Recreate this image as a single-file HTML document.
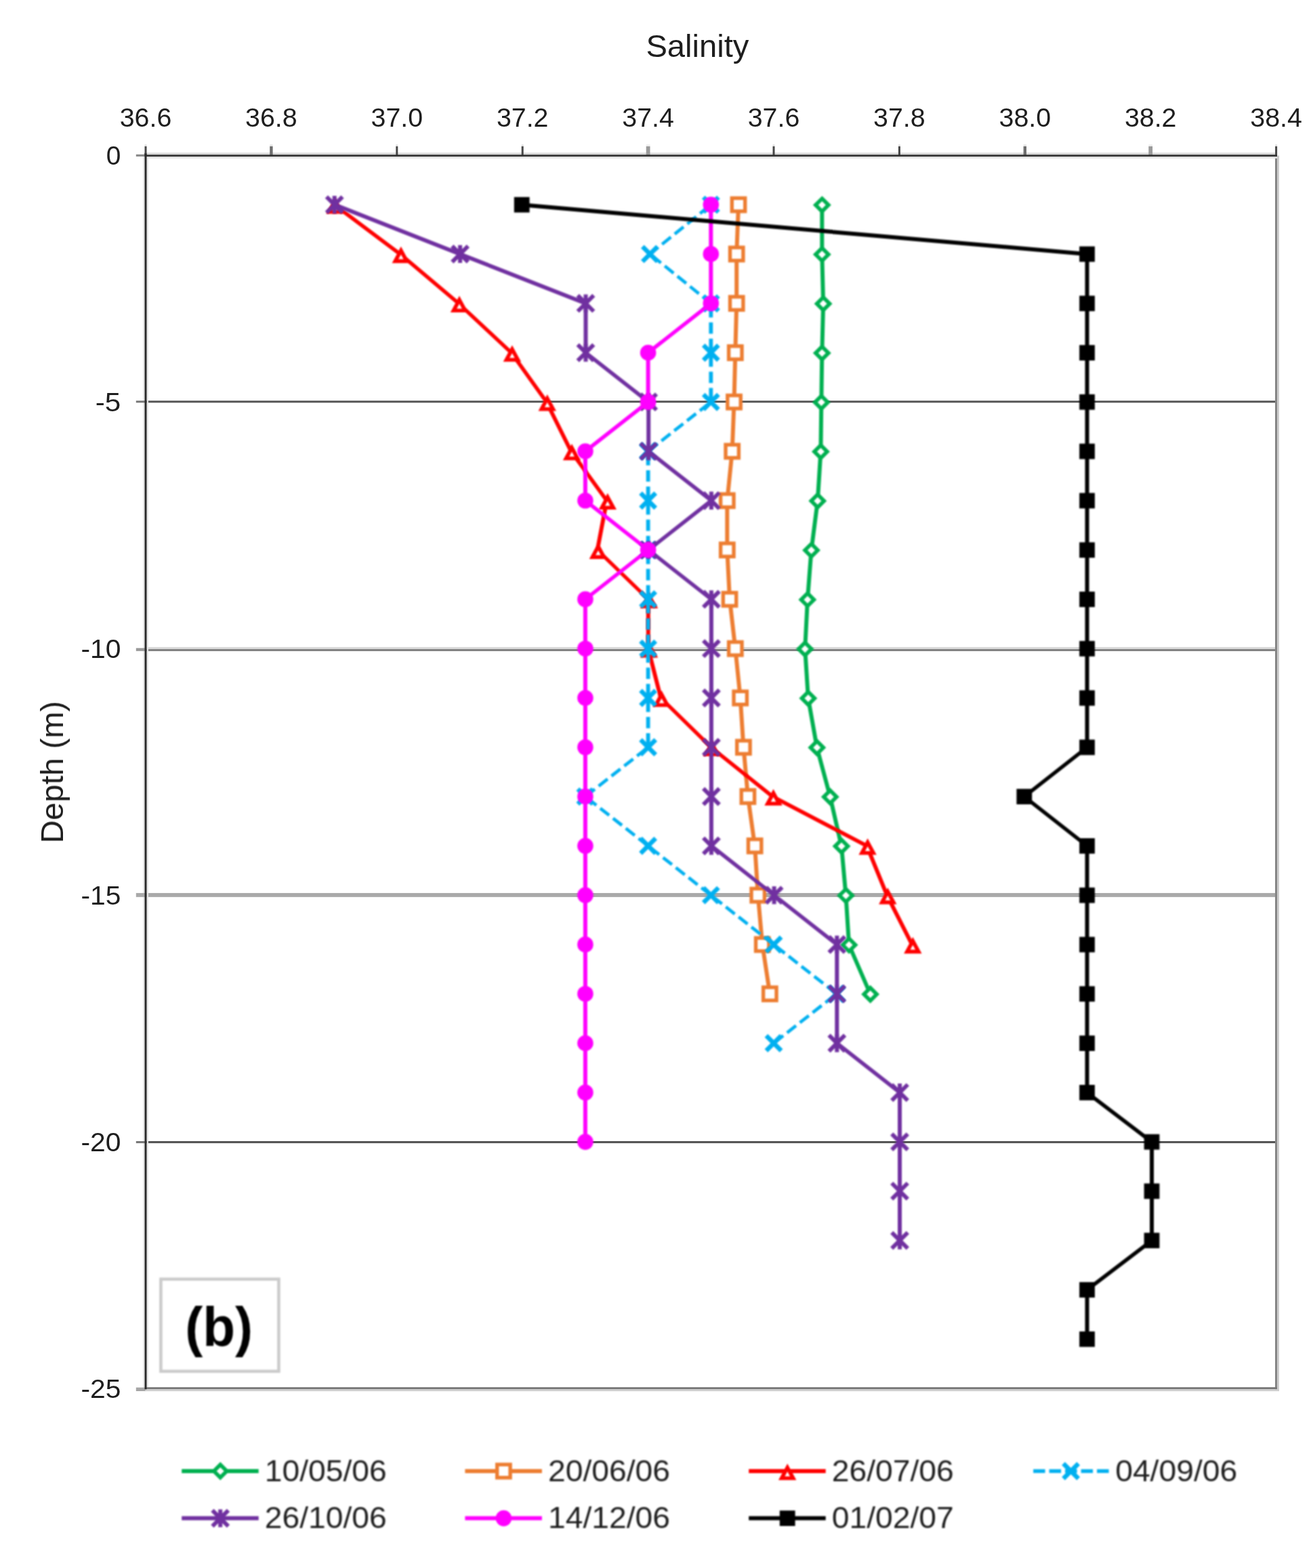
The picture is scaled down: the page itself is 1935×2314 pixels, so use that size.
<!DOCTYPE html>
<html lang="en">
<head>
<meta charset="utf-8">
<title>Salinity vs Depth (b)</title>
<style>
html,body{margin:0;padding:0;background:#fff;}
body{width:1935px;height:2314px;overflow:hidden;font-family:"Liberation Sans", "DejaVu Sans", sans-serif;}
svg{display:block;}
</style>
</head>
<body>
<svg width="1935" height="2314" viewBox="0 0 1935 2314" font-family='"Liberation Sans", "DejaVu Sans", sans-serif'>
<rect width="1935" height="2314" fill="#fff"/>
<defs><filter id="soft" x="-5%" y="-5%" width="110%" height="110%" color-interpolation-filters="sRGB"><feGaussianBlur stdDeviation="0.9"/></filter><filter id="softer" x="-5%" y="-5%" width="110%" height="110%" color-interpolation-filters="sRGB"><feGaussianBlur stdDeviation="0.7"/></filter></defs>
<g id="grid">
<rect x="213.5" y="591.3" width="1671.5" height="3.0" fill="#555555"/>
<rect x="213.5" y="954.9" width="1671.5" height="3.0" fill="#d9d9d9"/>
<rect x="213.5" y="957.9" width="1671.5" height="3.0" fill="#808080"/>
<rect x="213.5" y="1317.9" width="1671.5" height="5.9" fill="#a9a9a9"/>
<rect x="213.5" y="1684.0" width="1671.5" height="3.1" fill="#555555"/>
</g>
<g id="frame">
<rect x="1882.0" y="229.5" width="3.0" height="1821.0" fill="#858585"/>
<rect x="1885.0" y="229.5" width="3.0" height="1823.5" fill="#cdcdcd"/>
<rect x="213.5" y="2047.2" width="1671.5" height="3.1" fill="#777777"/>
<rect x="213.5" y="2050.3" width="1674.5" height="2.8" fill="#cfcfcf"/>
<rect x="212.0" y="225.4" width="1673.0" height="2.9" fill="#dadada"/>
<rect x="212.0" y="231.1" width="1673.0" height="2.7" fill="#e6e6e6"/>
<rect x="211.3" y="228.3" width="2.2" height="1822.0" fill="#e4e4e4"/>
<rect x="216.5" y="231.0" width="2.4" height="1816.0" fill="#e8e8e8"/>
<rect x="200.8" y="227.8" width="13.5" height="3.2" fill="#8c8c8c"/>
<rect x="200.8" y="591.3" width="13.5" height="3.0" fill="#777"/>
<rect x="200.8" y="956.4" width="13.5" height="4.4" fill="#999"/>
<rect x="200.8" y="1317.9" width="13.5" height="5.9" fill="#a9a9a9"/>
<rect x="200.8" y="1684.0" width="13.5" height="3.1" fill="#777"/>
<rect x="200.8" y="2047.6" width="13.5" height="5.4" fill="#a6a6a6"/>
<rect x="213.5" y="216.0" width="3.0" height="13.0" fill="#484848"/>
<rect x="213.5" y="213.4" width="3.0" height="2.6" fill="#dcdcdc"/>
<rect x="398.2" y="216.0" width="4.4" height="13.0" fill="#6e6e6e"/>
<rect x="398.2" y="213.4" width="4.4" height="2.6" fill="#e2e2e2"/>
<rect x="584.3" y="216.0" width="3.0" height="13.0" fill="#484848"/>
<rect x="584.3" y="213.4" width="3.0" height="2.6" fill="#dcdcdc"/>
<rect x="769.7" y="216.0" width="3.0" height="13.0" fill="#484848"/>
<rect x="769.7" y="213.4" width="3.0" height="2.6" fill="#dcdcdc"/>
<rect x="953.7" y="216.0" width="5.8" height="13.0" fill="#9a9a9a"/>
<rect x="953.7" y="213.4" width="5.8" height="2.6" fill="#ececec"/>
<rect x="1140.5" y="216.0" width="3.0" height="13.0" fill="#484848"/>
<rect x="1140.5" y="213.4" width="3.0" height="2.6" fill="#dcdcdc"/>
<rect x="1325.9" y="216.0" width="3.0" height="13.0" fill="#484848"/>
<rect x="1325.9" y="213.4" width="3.0" height="2.6" fill="#dcdcdc"/>
<rect x="1510.6" y="216.0" width="4.4" height="13.0" fill="#6e6e6e"/>
<rect x="1510.6" y="213.4" width="4.4" height="2.6" fill="#e2e2e2"/>
<rect x="1695.3" y="216.0" width="5.8" height="13.0" fill="#9a9a9a"/>
<rect x="1695.3" y="213.4" width="5.8" height="2.6" fill="#ececec"/>
<rect x="1882.1" y="216.0" width="3.0" height="13.0" fill="#484848"/>
<rect x="1882.1" y="213.4" width="3.0" height="2.6" fill="#dcdcdc"/>
<rect x="213.5" y="228.3" width="1671.5" height="2.8" fill="#333333"/>
<rect x="213.5" y="226.5" width="3.0" height="1823.8" fill="#2a2a2a"/>
</g>
<g id="labels" fill="#1e1e1e" filter="url(#softer)">
<text x="1029.4" y="84" font-size="46" text-anchor="middle" textLength="152" lengthAdjust="spacingAndGlyphs">Salinity</text>
<text x="215.0" y="187" font-size="38" text-anchor="middle" textLength="76.6" lengthAdjust="spacingAndGlyphs">36.6</text>
<text x="400.4" y="187" font-size="38" text-anchor="middle" textLength="76.6" lengthAdjust="spacingAndGlyphs">36.8</text>
<text x="585.8" y="187" font-size="38" text-anchor="middle" textLength="76.6" lengthAdjust="spacingAndGlyphs">37.0</text>
<text x="771.2" y="187" font-size="38" text-anchor="middle" textLength="76.6" lengthAdjust="spacingAndGlyphs">37.2</text>
<text x="956.6" y="187" font-size="38" text-anchor="middle" textLength="76.6" lengthAdjust="spacingAndGlyphs">37.4</text>
<text x="1142.0" y="187" font-size="38" text-anchor="middle" textLength="76.6" lengthAdjust="spacingAndGlyphs">37.6</text>
<text x="1327.4" y="187" font-size="38" text-anchor="middle" textLength="76.6" lengthAdjust="spacingAndGlyphs">37.8</text>
<text x="1512.8" y="187" font-size="38" text-anchor="middle" textLength="76.6" lengthAdjust="spacingAndGlyphs">38.0</text>
<text x="1698.2" y="187" font-size="38" text-anchor="middle" textLength="76.6" lengthAdjust="spacingAndGlyphs">38.2</text>
<text x="1883.6" y="187" font-size="38" text-anchor="middle" textLength="76.6" lengthAdjust="spacingAndGlyphs">38.4</text>
<text x="178.4" y="243.2" font-size="38" text-anchor="end" textLength="21.6" lengthAdjust="spacingAndGlyphs">0</text>
<text x="178.4" y="607.1" font-size="38" text-anchor="end" textLength="37.6" lengthAdjust="spacingAndGlyphs">-5</text>
<text x="178.4" y="971.1" font-size="38" text-anchor="end" textLength="59.0" lengthAdjust="spacingAndGlyphs">-10</text>
<text x="178.4" y="1335.0" font-size="38" text-anchor="end" textLength="59.0" lengthAdjust="spacingAndGlyphs">-15</text>
<text x="178.4" y="1699.0" font-size="38" text-anchor="end" textLength="59.0" lengthAdjust="spacingAndGlyphs">-20</text>
<text x="178.4" y="2062.9" font-size="38" text-anchor="end" textLength="59.0" lengthAdjust="spacingAndGlyphs">-25</text>
<text transform="translate(93 1139.5) rotate(-90)" font-size="46.5" text-anchor="middle" textLength="210" lengthAdjust="spacingAndGlyphs">Depth (m)</text>
</g>
<g id="s-green" filter="url(#soft)">
<g fill="none" stroke="#00B050" stroke-linecap="round">
<line x1="1213.3" y1="302.6" x2="1213.3" y2="375.4" stroke-width="6.00"/>
<line x1="1213.3" y1="375.4" x2="1215.1" y2="448.2" stroke-width="6.00"/>
<line x1="1215.1" y1="448.2" x2="1213.3" y2="521.0" stroke-width="6.00"/>
<line x1="1213.3" y1="521.0" x2="1212.3" y2="593.7" stroke-width="6.00"/>
<line x1="1212.3" y1="593.7" x2="1211.4" y2="666.5" stroke-width="6.00"/>
<line x1="1211.4" y1="666.5" x2="1206.8" y2="739.3" stroke-width="6.00"/>
<line x1="1206.8" y1="739.3" x2="1197.5" y2="812.1" stroke-width="5.99"/>
<line x1="1197.5" y1="812.1" x2="1191.9" y2="884.9" stroke-width="5.99"/>
<line x1="1191.9" y1="884.9" x2="1188.2" y2="957.7" stroke-width="6.00"/>
<line x1="1188.2" y1="957.7" x2="1192.9" y2="1030.5" stroke-width="6.00"/>
<line x1="1192.9" y1="1030.5" x2="1205.8" y2="1103.3" stroke-width="5.97"/>
<line x1="1205.8" y1="1103.3" x2="1225.3" y2="1176.0" stroke-width="5.94"/>
<line x1="1225.3" y1="1176.0" x2="1242.0" y2="1248.8" stroke-width="5.95"/>
<line x1="1242.0" y1="1248.8" x2="1248.5" y2="1321.6" stroke-width="5.99"/>
<line x1="1248.5" y1="1321.6" x2="1253.1" y2="1394.4" stroke-width="6.00"/>
<line x1="1253.1" y1="1394.4" x2="1284.6" y2="1467.2" stroke-width="5.85"/>
</g>
<path d="M1213.3 293.1L1222.8 302.6L1213.3 312.1L1203.8 302.6Z" fill="#fff" stroke="#00B050" stroke-width="5.6" stroke-linejoin="miter"/>
<path d="M1213.3 365.9L1222.8 375.4L1213.3 384.9L1203.8 375.4Z" fill="#fff" stroke="#00B050" stroke-width="5.6" stroke-linejoin="miter"/>
<path d="M1215.1 438.7L1224.6 448.2L1215.1 457.7L1205.6 448.2Z" fill="#fff" stroke="#00B050" stroke-width="5.6" stroke-linejoin="miter"/>
<path d="M1213.3 511.5L1222.8 521.0L1213.3 530.5L1203.8 521.0Z" fill="#fff" stroke="#00B050" stroke-width="5.6" stroke-linejoin="miter"/>
<path d="M1212.3 584.2L1221.8 593.7L1212.3 603.2L1202.8 593.7Z" fill="#fff" stroke="#00B050" stroke-width="5.6" stroke-linejoin="miter"/>
<path d="M1211.4 657.0L1220.9 666.5L1211.4 676.0L1201.9 666.5Z" fill="#fff" stroke="#00B050" stroke-width="5.6" stroke-linejoin="miter"/>
<path d="M1206.8 729.8L1216.3 739.3L1206.8 748.8L1197.3 739.3Z" fill="#fff" stroke="#00B050" stroke-width="5.6" stroke-linejoin="miter"/>
<path d="M1197.5 802.6L1207.0 812.1L1197.5 821.6L1188.0 812.1Z" fill="#fff" stroke="#00B050" stroke-width="5.6" stroke-linejoin="miter"/>
<path d="M1191.9 875.4L1201.4 884.9L1191.9 894.4L1182.4 884.9Z" fill="#fff" stroke="#00B050" stroke-width="5.6" stroke-linejoin="miter"/>
<path d="M1188.2 948.2L1197.7 957.7L1188.2 967.2L1178.7 957.7Z" fill="#fff" stroke="#00B050" stroke-width="5.6" stroke-linejoin="miter"/>
<path d="M1192.9 1021.0L1202.4 1030.5L1192.9 1040.0L1183.4 1030.5Z" fill="#fff" stroke="#00B050" stroke-width="5.6" stroke-linejoin="miter"/>
<path d="M1205.8 1093.8L1215.3 1103.3L1205.8 1112.8L1196.3 1103.3Z" fill="#fff" stroke="#00B050" stroke-width="5.6" stroke-linejoin="miter"/>
<path d="M1225.3 1166.5L1234.8 1176.0L1225.3 1185.5L1215.8 1176.0Z" fill="#fff" stroke="#00B050" stroke-width="5.6" stroke-linejoin="miter"/>
<path d="M1242.0 1239.3L1251.5 1248.8L1242.0 1258.3L1232.5 1248.8Z" fill="#fff" stroke="#00B050" stroke-width="5.6" stroke-linejoin="miter"/>
<path d="M1248.5 1312.1L1258.0 1321.6L1248.5 1331.1L1239.0 1321.6Z" fill="#fff" stroke="#00B050" stroke-width="5.6" stroke-linejoin="miter"/>
<path d="M1253.1 1384.9L1262.6 1394.4L1253.1 1403.9L1243.6 1394.4Z" fill="#fff" stroke="#00B050" stroke-width="5.6" stroke-linejoin="miter"/>
<path d="M1284.6 1457.7L1294.1 1467.2L1284.6 1476.7L1275.1 1467.2Z" fill="#fff" stroke="#00B050" stroke-width="5.6" stroke-linejoin="miter"/>
</g>
<g id="s-orange" filter="url(#soft)">
<g fill="none" stroke="#ED7D31" stroke-linecap="round">
<line x1="1090.0" y1="302.1" x2="1087.2" y2="374.9" stroke-width="6.00"/>
<line x1="1087.2" y1="374.9" x2="1087.2" y2="447.7" stroke-width="6.00"/>
<line x1="1087.2" y1="447.7" x2="1085.3" y2="520.5" stroke-width="6.00"/>
<line x1="1085.3" y1="520.5" x2="1083.5" y2="593.2" stroke-width="6.00"/>
<line x1="1083.5" y1="593.2" x2="1080.7" y2="666.0" stroke-width="6.00"/>
<line x1="1080.7" y1="666.0" x2="1073.3" y2="738.8" stroke-width="5.99"/>
<line x1="1073.3" y1="738.8" x2="1073.3" y2="811.6" stroke-width="6.00"/>
<line x1="1073.3" y1="811.6" x2="1077.0" y2="884.4" stroke-width="6.00"/>
<line x1="1077.0" y1="884.4" x2="1085.3" y2="957.2" stroke-width="5.99"/>
<line x1="1085.3" y1="957.2" x2="1092.7" y2="1030.0" stroke-width="5.99"/>
<line x1="1092.7" y1="1030.0" x2="1097.4" y2="1102.8" stroke-width="6.00"/>
<line x1="1097.4" y1="1102.8" x2="1103.9" y2="1175.5" stroke-width="5.99"/>
<line x1="1103.9" y1="1175.5" x2="1114.1" y2="1248.3" stroke-width="5.98"/>
<line x1="1114.1" y1="1248.3" x2="1118.7" y2="1321.1" stroke-width="6.00"/>
<line x1="1118.7" y1="1321.1" x2="1125.2" y2="1393.9" stroke-width="5.99"/>
<line x1="1125.2" y1="1393.9" x2="1136.3" y2="1466.7" stroke-width="5.98"/>
</g>
<rect x="1080.3" y="292.4" width="19.4" height="19.4" fill="#fff" stroke="#ED7D31" stroke-width="5.4"/>
<rect x="1077.5" y="365.2" width="19.4" height="19.4" fill="#fff" stroke="#ED7D31" stroke-width="5.4"/>
<rect x="1077.5" y="438.0" width="19.4" height="19.4" fill="#fff" stroke="#ED7D31" stroke-width="5.4"/>
<rect x="1075.6" y="510.8" width="19.4" height="19.4" fill="#fff" stroke="#ED7D31" stroke-width="5.4"/>
<rect x="1073.8" y="583.5" width="19.4" height="19.4" fill="#fff" stroke="#ED7D31" stroke-width="5.4"/>
<rect x="1071.0" y="656.3" width="19.4" height="19.4" fill="#fff" stroke="#ED7D31" stroke-width="5.4"/>
<rect x="1063.6" y="729.1" width="19.4" height="19.4" fill="#fff" stroke="#ED7D31" stroke-width="5.4"/>
<rect x="1063.6" y="801.9" width="19.4" height="19.4" fill="#fff" stroke="#ED7D31" stroke-width="5.4"/>
<rect x="1067.3" y="874.7" width="19.4" height="19.4" fill="#fff" stroke="#ED7D31" stroke-width="5.4"/>
<rect x="1075.6" y="947.5" width="19.4" height="19.4" fill="#fff" stroke="#ED7D31" stroke-width="5.4"/>
<rect x="1083.0" y="1020.3" width="19.4" height="19.4" fill="#fff" stroke="#ED7D31" stroke-width="5.4"/>
<rect x="1087.7" y="1093.1" width="19.4" height="19.4" fill="#fff" stroke="#ED7D31" stroke-width="5.4"/>
<rect x="1094.2" y="1165.8" width="19.4" height="19.4" fill="#fff" stroke="#ED7D31" stroke-width="5.4"/>
<rect x="1104.4" y="1238.6" width="19.4" height="19.4" fill="#fff" stroke="#ED7D31" stroke-width="5.4"/>
<rect x="1109.0" y="1311.4" width="19.4" height="19.4" fill="#fff" stroke="#ED7D31" stroke-width="5.4"/>
<rect x="1115.5" y="1384.2" width="19.4" height="19.4" fill="#fff" stroke="#ED7D31" stroke-width="5.4"/>
<rect x="1126.6" y="1457.0" width="19.4" height="19.4" fill="#fff" stroke="#ED7D31" stroke-width="5.4"/>
</g>
<g id="s-red" filter="url(#soft)">
<g fill="none" stroke="#FF0000" stroke-linecap="round">
<line x1="493.3" y1="302.1" x2="590.6" y2="374.9" stroke-width="5.61"/>
<line x1="590.6" y1="374.9" x2="676.8" y2="447.7" stroke-width="5.53"/>
<line x1="676.8" y1="447.7" x2="754.7" y2="520.5" stroke-width="5.46"/>
<line x1="754.7" y1="520.5" x2="806.6" y2="593.2" stroke-width="5.64"/>
<line x1="806.6" y1="593.2" x2="842.8" y2="666.0" stroke-width="5.80"/>
<line x1="842.8" y1="666.0" x2="895.6" y2="738.8" stroke-width="5.63"/>
<line x1="895.6" y1="738.8" x2="881.7" y2="811.6" stroke-width="5.97"/>
<line x1="881.7" y1="811.6" x2="956.8" y2="884.4" stroke-width="5.43"/>
<line x1="956.8" y1="884.4" x2="956.8" y2="957.2" stroke-width="6.00"/>
<line x1="956.8" y1="957.2" x2="975.3" y2="1030.0" stroke-width="5.94"/>
<line x1="975.3" y1="1030.0" x2="1049.5" y2="1102.8" stroke-width="5.42"/>
<line x1="1049.5" y1="1102.8" x2="1140.3" y2="1175.5" stroke-width="5.57"/>
<line x1="1140.3" y1="1175.5" x2="1279.4" y2="1248.3" stroke-width="5.79"/>
<line x1="1279.4" y1="1248.3" x2="1309.1" y2="1321.1" stroke-width="5.86"/>
<line x1="1309.1" y1="1321.1" x2="1346.1" y2="1393.9" stroke-width="5.80"/>
</g>
<path d="M494.5 296.9L503.0 312.6L486.0 312.6Z" fill="#fff" stroke="#FF0000" stroke-width="5.6" stroke-linejoin="miter"/>
<path d="M591.8 369.7L600.3 385.4L583.3 385.4Z" fill="#fff" stroke="#FF0000" stroke-width="5.6" stroke-linejoin="miter"/>
<path d="M678.0 442.5L686.5 458.2L669.5 458.2Z" fill="#fff" stroke="#FF0000" stroke-width="5.6" stroke-linejoin="miter"/>
<path d="M755.9 515.3L764.4 531.0L747.4 531.0Z" fill="#fff" stroke="#FF0000" stroke-width="5.6" stroke-linejoin="miter"/>
<path d="M807.8 588.0L816.3 603.7L799.3 603.7Z" fill="#fff" stroke="#FF0000" stroke-width="5.6" stroke-linejoin="miter"/>
<path d="M844.0 660.8L852.5 676.5L835.5 676.5Z" fill="#fff" stroke="#FF0000" stroke-width="5.6" stroke-linejoin="miter"/>
<path d="M896.8 733.6L905.3 749.3L888.3 749.3Z" fill="#fff" stroke="#FF0000" stroke-width="5.6" stroke-linejoin="miter"/>
<path d="M882.9 806.4L891.4 822.1L874.4 822.1Z" fill="#fff" stroke="#FF0000" stroke-width="5.6" stroke-linejoin="miter"/>
<path d="M958.0 879.2L966.5 894.9L949.5 894.9Z" fill="#fff" stroke="#FF0000" stroke-width="5.6" stroke-linejoin="miter"/>
<path d="M958.0 952.0L966.5 967.7L949.5 967.7Z" fill="#fff" stroke="#FF0000" stroke-width="5.6" stroke-linejoin="miter"/>
<path d="M976.5 1024.8L985.0 1040.5L968.0 1040.5Z" fill="#fff" stroke="#FF0000" stroke-width="5.6" stroke-linejoin="miter"/>
<path d="M1050.7 1097.6L1059.2 1113.3L1042.2 1113.3Z" fill="#fff" stroke="#FF0000" stroke-width="5.6" stroke-linejoin="miter"/>
<path d="M1141.5 1170.3L1150.0 1186.0L1133.0 1186.0Z" fill="#fff" stroke="#FF0000" stroke-width="5.6" stroke-linejoin="miter"/>
<path d="M1280.6 1243.1L1289.1 1258.8L1272.1 1258.8Z" fill="#fff" stroke="#FF0000" stroke-width="5.6" stroke-linejoin="miter"/>
<path d="M1310.3 1315.9L1318.8 1331.6L1301.8 1331.6Z" fill="#fff" stroke="#FF0000" stroke-width="5.6" stroke-linejoin="miter"/>
<path d="M1347.3 1388.7L1355.8 1404.4L1338.8 1404.4Z" fill="#fff" stroke="#FF0000" stroke-width="5.6" stroke-linejoin="miter"/>
</g>
<g id="s-cyan" filter="url(#soft)">
<g fill="none" stroke="#00B0F0" stroke-linecap="butt" stroke-dasharray="16.8 7.2" stroke-dashoffset="20">
<line x1="1049.3" y1="302.1" x2="959.4" y2="374.9" stroke-width="4.74"/>
<line x1="959.4" y1="374.9" x2="1049.3" y2="447.7" stroke-width="4.74"/>
<line x1="1049.3" y1="447.7" x2="1049.3" y2="520.5" stroke-width="5.80"/>
<line x1="1049.3" y1="520.5" x2="1049.3" y2="593.2" stroke-width="5.80"/>
<line x1="1049.3" y1="593.2" x2="956.6" y2="666.0" stroke-width="4.79"/>
<line x1="956.6" y1="666.0" x2="956.6" y2="738.8" stroke-width="5.80"/>
<line x1="956.6" y1="738.8" x2="956.6" y2="811.6" stroke-width="5.80"/>
<line x1="956.6" y1="811.6" x2="956.6" y2="884.4" stroke-width="5.80"/>
<line x1="956.6" y1="884.4" x2="956.6" y2="957.2" stroke-width="5.80"/>
<line x1="956.6" y1="957.2" x2="956.6" y2="1030.0" stroke-width="5.80"/>
<line x1="956.6" y1="1030.0" x2="956.6" y2="1102.8" stroke-width="5.80"/>
<line x1="956.6" y1="1102.8" x2="863.9" y2="1175.5" stroke-width="4.79"/>
<line x1="863.9" y1="1175.5" x2="956.6" y2="1248.3" stroke-width="4.79"/>
<line x1="956.6" y1="1248.3" x2="1049.3" y2="1321.1" stroke-width="4.79"/>
<line x1="1049.3" y1="1321.1" x2="1142.0" y2="1393.9" stroke-width="4.79"/>
<line x1="1142.0" y1="1393.9" x2="1234.7" y2="1466.7" stroke-width="4.79"/>
<line x1="1234.7" y1="1466.7" x2="1142.0" y2="1539.5" stroke-width="4.79"/>
</g>
<path d="M1038.2 291.0L1060.4 313.2M1060.4 291.0L1038.2 313.2" fill="none" stroke="#00B0F0" stroke-width="6.6" stroke-linecap="butt"/>
<path d="M948.3 363.8L970.5 386.0M970.5 363.8L948.3 386.0" fill="none" stroke="#00B0F0" stroke-width="6.6" stroke-linecap="butt"/>
<path d="M1038.2 436.6L1060.4 458.8M1060.4 436.6L1038.2 458.8" fill="none" stroke="#00B0F0" stroke-width="6.6" stroke-linecap="butt"/>
<path d="M1038.2 509.4L1060.4 531.6M1060.4 509.4L1038.2 531.6" fill="none" stroke="#00B0F0" stroke-width="6.6" stroke-linecap="butt"/>
<path d="M1038.2 582.1L1060.4 604.3M1060.4 582.1L1038.2 604.3" fill="none" stroke="#00B0F0" stroke-width="6.6" stroke-linecap="butt"/>
<path d="M945.5 654.9L967.7 677.1M967.7 654.9L945.5 677.1" fill="none" stroke="#00B0F0" stroke-width="6.6" stroke-linecap="butt"/>
<path d="M945.5 727.7L967.7 749.9M967.7 727.7L945.5 749.9" fill="none" stroke="#00B0F0" stroke-width="6.6" stroke-linecap="butt"/>
<path d="M945.5 800.5L967.7 822.7M967.7 800.5L945.5 822.7" fill="none" stroke="#00B0F0" stroke-width="6.6" stroke-linecap="butt"/>
<path d="M945.5 873.3L967.7 895.5M967.7 873.3L945.5 895.5" fill="none" stroke="#00B0F0" stroke-width="6.6" stroke-linecap="butt"/>
<path d="M945.5 946.1L967.7 968.3M967.7 946.1L945.5 968.3" fill="none" stroke="#00B0F0" stroke-width="6.6" stroke-linecap="butt"/>
<path d="M945.5 1018.9L967.7 1041.1M967.7 1018.9L945.5 1041.1" fill="none" stroke="#00B0F0" stroke-width="6.6" stroke-linecap="butt"/>
<path d="M945.5 1091.7L967.7 1113.9M967.7 1091.7L945.5 1113.9" fill="none" stroke="#00B0F0" stroke-width="6.6" stroke-linecap="butt"/>
<path d="M852.8 1164.4L875.0 1186.6M875.0 1164.4L852.8 1186.6" fill="none" stroke="#00B0F0" stroke-width="6.6" stroke-linecap="butt"/>
<path d="M945.5 1237.2L967.7 1259.4M967.7 1237.2L945.5 1259.4" fill="none" stroke="#00B0F0" stroke-width="6.6" stroke-linecap="butt"/>
<path d="M1038.2 1310.0L1060.4 1332.2M1060.4 1310.0L1038.2 1332.2" fill="none" stroke="#00B0F0" stroke-width="6.6" stroke-linecap="butt"/>
<path d="M1130.9 1382.8L1153.1 1405.0M1153.1 1382.8L1130.9 1405.0" fill="none" stroke="#00B0F0" stroke-width="6.6" stroke-linecap="butt"/>
<path d="M1223.6 1455.6L1245.8 1477.8M1245.8 1455.6L1223.6 1477.8" fill="none" stroke="#00B0F0" stroke-width="6.6" stroke-linecap="butt"/>
<path d="M1130.9 1528.4L1153.1 1550.6M1153.1 1528.4L1130.9 1550.6" fill="none" stroke="#00B0F0" stroke-width="6.6" stroke-linecap="butt"/>
</g>
<g id="s-purple" filter="url(#soft)">
<g fill="none" stroke="#7030A0" stroke-linecap="round">
<line x1="493.7" y1="302.1" x2="679.1" y2="374.9" stroke-width="5.87"/>
<line x1="679.1" y1="374.9" x2="864.5" y2="447.7" stroke-width="5.87"/>
<line x1="864.5" y1="447.7" x2="864.5" y2="520.5" stroke-width="6.00"/>
<line x1="864.5" y1="520.5" x2="957.2" y2="593.2" stroke-width="5.58"/>
<line x1="957.2" y1="593.2" x2="957.2" y2="666.0" stroke-width="6.00"/>
<line x1="957.2" y1="666.0" x2="1049.9" y2="738.8" stroke-width="5.58"/>
<line x1="1049.9" y1="738.8" x2="957.2" y2="811.6" stroke-width="5.58"/>
<line x1="957.2" y1="811.6" x2="1049.9" y2="884.4" stroke-width="5.58"/>
<line x1="1049.9" y1="884.4" x2="1049.9" y2="957.2" stroke-width="6.00"/>
<line x1="1049.9" y1="957.2" x2="1049.9" y2="1030.0" stroke-width="6.00"/>
<line x1="1049.9" y1="1030.0" x2="1049.9" y2="1102.8" stroke-width="6.00"/>
<line x1="1049.9" y1="1102.8" x2="1049.9" y2="1175.5" stroke-width="6.00"/>
<line x1="1049.9" y1="1175.5" x2="1049.9" y2="1248.3" stroke-width="6.00"/>
<line x1="1049.9" y1="1248.3" x2="1142.6" y2="1321.1" stroke-width="5.58"/>
<line x1="1142.6" y1="1321.1" x2="1235.3" y2="1393.9" stroke-width="5.58"/>
<line x1="1235.3" y1="1393.9" x2="1235.3" y2="1466.7" stroke-width="6.00"/>
<line x1="1235.3" y1="1466.7" x2="1235.3" y2="1539.5" stroke-width="6.00"/>
<line x1="1235.3" y1="1539.5" x2="1328.0" y2="1612.3" stroke-width="5.58"/>
<line x1="1328.0" y1="1612.3" x2="1328.0" y2="1685.1" stroke-width="6.00"/>
<line x1="1328.0" y1="1685.1" x2="1328.0" y2="1757.8" stroke-width="6.00"/>
<line x1="1328.0" y1="1757.8" x2="1328.0" y2="1830.6" stroke-width="6.00"/>
</g>
<path d="M481.9 290.3L505.5 313.9M505.5 290.3L481.9 313.9M493.7 288.9L493.7 315.3" fill="none" stroke="#7030A0" stroke-width="6" stroke-linecap="butt"/>
<path d="M667.3 363.1L690.9 386.7M690.9 363.1L667.3 386.7M679.1 361.7L679.1 388.1" fill="none" stroke="#7030A0" stroke-width="6" stroke-linecap="butt"/>
<path d="M852.7 435.9L876.3 459.5M876.3 435.9L852.7 459.5M864.5 434.5L864.5 460.9" fill="none" stroke="#7030A0" stroke-width="6" stroke-linecap="butt"/>
<path d="M852.7 508.7L876.3 532.3M876.3 508.7L852.7 532.3M864.5 507.3L864.5 533.7" fill="none" stroke="#7030A0" stroke-width="6" stroke-linecap="butt"/>
<path d="M945.4 581.4L969.0 605.0M969.0 581.4L945.4 605.0M957.2 580.0L957.2 606.4" fill="none" stroke="#7030A0" stroke-width="6" stroke-linecap="butt"/>
<path d="M945.4 654.2L969.0 677.8M969.0 654.2L945.4 677.8M957.2 652.8L957.2 679.2" fill="none" stroke="#7030A0" stroke-width="6" stroke-linecap="butt"/>
<path d="M1038.1 727.0L1061.7 750.6M1061.7 727.0L1038.1 750.6M1049.9 725.6L1049.9 752.0" fill="none" stroke="#7030A0" stroke-width="6" stroke-linecap="butt"/>
<path d="M945.4 799.8L969.0 823.4M969.0 799.8L945.4 823.4M957.2 798.4L957.2 824.8" fill="none" stroke="#7030A0" stroke-width="6" stroke-linecap="butt"/>
<path d="M1038.1 872.6L1061.7 896.2M1061.7 872.6L1038.1 896.2M1049.9 871.2L1049.9 897.6" fill="none" stroke="#7030A0" stroke-width="6" stroke-linecap="butt"/>
<path d="M1038.1 945.4L1061.7 969.0M1061.7 945.4L1038.1 969.0M1049.9 944.0L1049.9 970.4" fill="none" stroke="#7030A0" stroke-width="6" stroke-linecap="butt"/>
<path d="M1038.1 1018.2L1061.7 1041.8M1061.7 1018.2L1038.1 1041.8M1049.9 1016.8L1049.9 1043.2" fill="none" stroke="#7030A0" stroke-width="6" stroke-linecap="butt"/>
<path d="M1038.1 1091.0L1061.7 1114.6M1061.7 1091.0L1038.1 1114.6M1049.9 1089.6L1049.9 1116.0" fill="none" stroke="#7030A0" stroke-width="6" stroke-linecap="butt"/>
<path d="M1038.1 1163.7L1061.7 1187.3M1061.7 1163.7L1038.1 1187.3M1049.9 1162.3L1049.9 1188.7" fill="none" stroke="#7030A0" stroke-width="6" stroke-linecap="butt"/>
<path d="M1038.1 1236.5L1061.7 1260.1M1061.7 1236.5L1038.1 1260.1M1049.9 1235.1L1049.9 1261.5" fill="none" stroke="#7030A0" stroke-width="6" stroke-linecap="butt"/>
<path d="M1130.8 1309.3L1154.4 1332.9M1154.4 1309.3L1130.8 1332.9M1142.6 1307.9L1142.6 1334.3" fill="none" stroke="#7030A0" stroke-width="6" stroke-linecap="butt"/>
<path d="M1223.5 1382.1L1247.1 1405.7M1247.1 1382.1L1223.5 1405.7M1235.3 1380.7L1235.3 1407.1" fill="none" stroke="#7030A0" stroke-width="6" stroke-linecap="butt"/>
<path d="M1223.5 1454.9L1247.1 1478.5M1247.1 1454.9L1223.5 1478.5M1235.3 1453.5L1235.3 1479.9" fill="none" stroke="#7030A0" stroke-width="6" stroke-linecap="butt"/>
<path d="M1223.5 1527.7L1247.1 1551.3M1247.1 1527.7L1223.5 1551.3M1235.3 1526.3L1235.3 1552.7" fill="none" stroke="#7030A0" stroke-width="6" stroke-linecap="butt"/>
<path d="M1316.2 1600.5L1339.8 1624.1M1339.8 1600.5L1316.2 1624.1M1328.0 1599.1L1328.0 1625.5" fill="none" stroke="#7030A0" stroke-width="6" stroke-linecap="butt"/>
<path d="M1316.2 1673.3L1339.8 1696.9M1339.8 1673.3L1316.2 1696.9M1328.0 1671.9L1328.0 1698.3" fill="none" stroke="#7030A0" stroke-width="6" stroke-linecap="butt"/>
<path d="M1316.2 1746.0L1339.8 1769.6M1339.8 1746.0L1316.2 1769.6M1328.0 1744.6L1328.0 1771.0" fill="none" stroke="#7030A0" stroke-width="6" stroke-linecap="butt"/>
<path d="M1316.2 1818.8L1339.8 1842.4M1339.8 1818.8L1316.2 1842.4M1328.0 1817.4L1328.0 1843.8" fill="none" stroke="#7030A0" stroke-width="6" stroke-linecap="butt"/>
</g>
<g id="s-magenta" filter="url(#soft)">
<g fill="none" stroke="#FF00FF" stroke-linecap="round">
<line x1="1049.3" y1="302.1" x2="1049.3" y2="374.9" stroke-width="6.00"/>
<line x1="1049.3" y1="374.9" x2="1049.3" y2="447.7" stroke-width="6.00"/>
<line x1="1049.3" y1="447.7" x2="956.6" y2="520.5" stroke-width="5.58"/>
<line x1="956.6" y1="520.5" x2="956.6" y2="593.2" stroke-width="6.00"/>
<line x1="956.6" y1="593.2" x2="863.9" y2="666.0" stroke-width="5.58"/>
<line x1="863.9" y1="666.0" x2="863.9" y2="738.8" stroke-width="6.00"/>
<line x1="863.9" y1="738.8" x2="956.6" y2="811.6" stroke-width="5.58"/>
<line x1="956.6" y1="811.6" x2="863.9" y2="884.4" stroke-width="5.58"/>
<line x1="863.9" y1="884.4" x2="863.9" y2="957.2" stroke-width="6.00"/>
<line x1="863.9" y1="957.2" x2="863.9" y2="1030.0" stroke-width="6.00"/>
<line x1="863.9" y1="1030.0" x2="863.9" y2="1102.8" stroke-width="6.00"/>
<line x1="863.9" y1="1102.8" x2="863.9" y2="1175.5" stroke-width="6.00"/>
<line x1="863.9" y1="1175.5" x2="863.9" y2="1248.3" stroke-width="6.00"/>
<line x1="863.9" y1="1248.3" x2="863.9" y2="1321.1" stroke-width="6.00"/>
<line x1="863.9" y1="1321.1" x2="863.9" y2="1393.9" stroke-width="6.00"/>
<line x1="863.9" y1="1393.9" x2="863.9" y2="1466.7" stroke-width="6.00"/>
<line x1="863.9" y1="1466.7" x2="863.9" y2="1539.5" stroke-width="6.00"/>
<line x1="863.9" y1="1539.5" x2="863.9" y2="1612.3" stroke-width="6.00"/>
<line x1="863.9" y1="1612.3" x2="863.9" y2="1685.1" stroke-width="6.00"/>
</g>
<circle cx="1049.3" cy="302.1" r="11.8" fill="#FF00FF"/>
<circle cx="1049.3" cy="374.9" r="11.8" fill="#FF00FF"/>
<circle cx="1049.3" cy="447.7" r="11.8" fill="#FF00FF"/>
<circle cx="956.6" cy="520.5" r="11.8" fill="#FF00FF"/>
<circle cx="956.6" cy="593.2" r="11.8" fill="#FF00FF"/>
<circle cx="863.9" cy="666.0" r="11.8" fill="#FF00FF"/>
<circle cx="863.9" cy="738.8" r="11.8" fill="#FF00FF"/>
<circle cx="956.6" cy="811.6" r="11.8" fill="#FF00FF"/>
<circle cx="863.9" cy="884.4" r="11.8" fill="#FF00FF"/>
<circle cx="863.9" cy="957.2" r="11.8" fill="#FF00FF"/>
<circle cx="863.9" cy="1030.0" r="11.8" fill="#FF00FF"/>
<circle cx="863.9" cy="1102.8" r="11.8" fill="#FF00FF"/>
<circle cx="863.9" cy="1175.5" r="11.8" fill="#FF00FF"/>
<circle cx="863.9" cy="1248.3" r="11.8" fill="#FF00FF"/>
<circle cx="863.9" cy="1321.1" r="11.8" fill="#FF00FF"/>
<circle cx="863.9" cy="1393.9" r="11.8" fill="#FF00FF"/>
<circle cx="863.9" cy="1466.7" r="11.8" fill="#FF00FF"/>
<circle cx="863.9" cy="1539.5" r="11.8" fill="#FF00FF"/>
<circle cx="863.9" cy="1612.3" r="11.8" fill="#FF00FF"/>
<circle cx="863.9" cy="1685.1" r="11.8" fill="#FF00FF"/>
</g>
<g id="s-black" filter="url(#soft)">
<g fill="none" stroke="#000000" stroke-linecap="round">
<line x1="770.2" y1="302.2" x2="1604.5" y2="375.0" stroke-width="5.99"/>
<line x1="1604.5" y1="375.0" x2="1604.5" y2="447.8" stroke-width="6.00"/>
<line x1="1604.5" y1="447.8" x2="1604.5" y2="520.6" stroke-width="6.00"/>
<line x1="1604.5" y1="520.6" x2="1604.5" y2="593.3" stroke-width="6.00"/>
<line x1="1604.5" y1="593.3" x2="1604.5" y2="666.1" stroke-width="6.00"/>
<line x1="1604.5" y1="666.1" x2="1604.5" y2="738.9" stroke-width="6.00"/>
<line x1="1604.5" y1="738.9" x2="1604.5" y2="811.7" stroke-width="6.00"/>
<line x1="1604.5" y1="811.7" x2="1604.5" y2="884.5" stroke-width="6.00"/>
<line x1="1604.5" y1="884.5" x2="1604.5" y2="957.3" stroke-width="6.00"/>
<line x1="1604.5" y1="957.3" x2="1604.5" y2="1030.1" stroke-width="6.00"/>
<line x1="1604.5" y1="1030.1" x2="1604.5" y2="1102.9" stroke-width="6.00"/>
<line x1="1604.5" y1="1102.9" x2="1511.8" y2="1175.6" stroke-width="5.58"/>
<line x1="1511.8" y1="1175.6" x2="1604.5" y2="1248.4" stroke-width="5.58"/>
<line x1="1604.5" y1="1248.4" x2="1604.5" y2="1321.2" stroke-width="6.00"/>
<line x1="1604.5" y1="1321.2" x2="1604.5" y2="1394.0" stroke-width="6.00"/>
<line x1="1604.5" y1="1394.0" x2="1604.5" y2="1466.8" stroke-width="6.00"/>
<line x1="1604.5" y1="1466.8" x2="1604.5" y2="1539.6" stroke-width="6.00"/>
<line x1="1604.5" y1="1539.6" x2="1604.5" y2="1612.4" stroke-width="6.00"/>
<line x1="1604.5" y1="1612.4" x2="1700.0" y2="1685.2" stroke-width="5.60"/>
<line x1="1700.0" y1="1685.2" x2="1700.0" y2="1757.9" stroke-width="6.00"/>
<line x1="1700.0" y1="1757.9" x2="1700.0" y2="1830.7" stroke-width="6.00"/>
<line x1="1700.0" y1="1830.7" x2="1604.5" y2="1903.5" stroke-width="5.60"/>
<line x1="1604.5" y1="1903.5" x2="1604.5" y2="1976.3" stroke-width="6.00"/>
</g>
<rect x="758.8" y="290.8" width="22.8" height="22.8" fill="#000000"/>
<rect x="1593.1" y="363.6" width="22.8" height="22.8" fill="#000000"/>
<rect x="1593.1" y="436.4" width="22.8" height="22.8" fill="#000000"/>
<rect x="1593.1" y="509.2" width="22.8" height="22.8" fill="#000000"/>
<rect x="1593.1" y="581.9" width="22.8" height="22.8" fill="#000000"/>
<rect x="1593.1" y="654.7" width="22.8" height="22.8" fill="#000000"/>
<rect x="1593.1" y="727.5" width="22.8" height="22.8" fill="#000000"/>
<rect x="1593.1" y="800.3" width="22.8" height="22.8" fill="#000000"/>
<rect x="1593.1" y="873.1" width="22.8" height="22.8" fill="#000000"/>
<rect x="1593.1" y="945.9" width="22.8" height="22.8" fill="#000000"/>
<rect x="1593.1" y="1018.7" width="22.8" height="22.8" fill="#000000"/>
<rect x="1593.1" y="1091.5" width="22.8" height="22.8" fill="#000000"/>
<rect x="1500.4" y="1164.2" width="22.8" height="22.8" fill="#000000"/>
<rect x="1593.1" y="1237.0" width="22.8" height="22.8" fill="#000000"/>
<rect x="1593.1" y="1309.8" width="22.8" height="22.8" fill="#000000"/>
<rect x="1593.1" y="1382.6" width="22.8" height="22.8" fill="#000000"/>
<rect x="1593.1" y="1455.4" width="22.8" height="22.8" fill="#000000"/>
<rect x="1593.1" y="1528.2" width="22.8" height="22.8" fill="#000000"/>
<rect x="1593.1" y="1601.0" width="22.8" height="22.8" fill="#000000"/>
<rect x="1688.6" y="1673.8" width="22.8" height="22.8" fill="#000000"/>
<rect x="1688.6" y="1746.5" width="22.8" height="22.8" fill="#000000"/>
<rect x="1688.6" y="1819.3" width="22.8" height="22.8" fill="#000000"/>
<rect x="1593.1" y="1892.1" width="22.8" height="22.8" fill="#000000"/>
<rect x="1593.1" y="1964.9" width="22.8" height="22.8" fill="#000000"/>
</g>
<g id="tag" filter="url(#soft)">
<rect x="237.4" y="1887.7" width="174" height="136" fill="#fff" stroke="#cbcbcb" stroke-width="4.6"/>
<text x="323.2" y="1986" font-size="81" font-weight="bold" text-anchor="middle" fill="#000" textLength="100" lengthAdjust="spacingAndGlyphs">(b)</text>
</g>
<g id="legend" filter="url(#soft)">
<line x1="268.2" y1="2171.0" x2="381.7" y2="2171.0" stroke="#00B050" stroke-width="6.0"/>
<path d="M325.2 2161.5L334.7 2171.0L325.2 2180.5L315.7 2171.0Z" fill="#fff" stroke="#00B050" stroke-width="5.6" stroke-linejoin="miter"/>
<text x="390.8" y="2185.8" font-size="45" fill="#1e1e1e" textLength="180" lengthAdjust="spacingAndGlyphs">10/05/06</text>
<line x1="686.4" y1="2171.0" x2="799.9" y2="2171.0" stroke="#ED7D31" stroke-width="6.0"/>
<rect x="733.7" y="2161.3" width="19.4" height="19.4" fill="#fff" stroke="#ED7D31" stroke-width="5.4"/>
<text x="809.0" y="2185.8" font-size="45" fill="#1e1e1e" textLength="180" lengthAdjust="spacingAndGlyphs">20/06/06</text>
<line x1="1105.2" y1="2171.0" x2="1218.7" y2="2171.0" stroke="#FF0000" stroke-width="6.0"/>
<path d="M1162.2 2165.8L1170.7 2181.5L1153.7 2181.5Z" fill="#fff" stroke="#FF0000" stroke-width="5.6" stroke-linejoin="miter"/>
<text x="1227.8" y="2185.8" font-size="45" fill="#1e1e1e" textLength="180" lengthAdjust="spacingAndGlyphs">26/07/06</text>
<line x1="1523.6" y1="2171.0" x2="1637.1" y2="2171.0" stroke="#00B0F0" stroke-width="5.4" stroke-dasharray="17.5 6" stroke-dashoffset="22"/>
<path d="M1569.5 2159.9L1591.7 2182.1M1591.7 2159.9L1569.5 2182.1" fill="none" stroke="#00B0F0" stroke-width="6.6" stroke-linecap="butt"/>
<text x="1646.2" y="2185.8" font-size="45" fill="#1e1e1e" textLength="180" lengthAdjust="spacingAndGlyphs">04/09/06</text>
<line x1="268.2" y1="2240.6" x2="381.7" y2="2240.6" stroke="#7030A0" stroke-width="6.0"/>
<path d="M313.4 2228.8L337.0 2252.4M337.0 2228.8L313.4 2252.4M325.2 2227.4L325.2 2253.8" fill="none" stroke="#7030A0" stroke-width="6" stroke-linecap="butt"/>
<text x="390.8" y="2255.4" font-size="45" fill="#1e1e1e" textLength="180" lengthAdjust="spacingAndGlyphs">26/10/06</text>
<line x1="686.4" y1="2240.6" x2="799.9" y2="2240.6" stroke="#FF00FF" stroke-width="6.0"/>
<circle cx="743.4" cy="2240.6" r="11.8" fill="#FF00FF"/>
<text x="809.0" y="2255.4" font-size="45" fill="#1e1e1e" textLength="180" lengthAdjust="spacingAndGlyphs">14/12/06</text>
<line x1="1105.2" y1="2240.6" x2="1218.7" y2="2240.6" stroke="#000000" stroke-width="6.0"/>
<rect x="1150.8" y="2229.2" width="22.8" height="22.8" fill="#000000"/>
<text x="1227.8" y="2255.4" font-size="45" fill="#1e1e1e" textLength="180" lengthAdjust="spacingAndGlyphs">01/02/07</text>
</g>
</svg>
</body>
</html>
